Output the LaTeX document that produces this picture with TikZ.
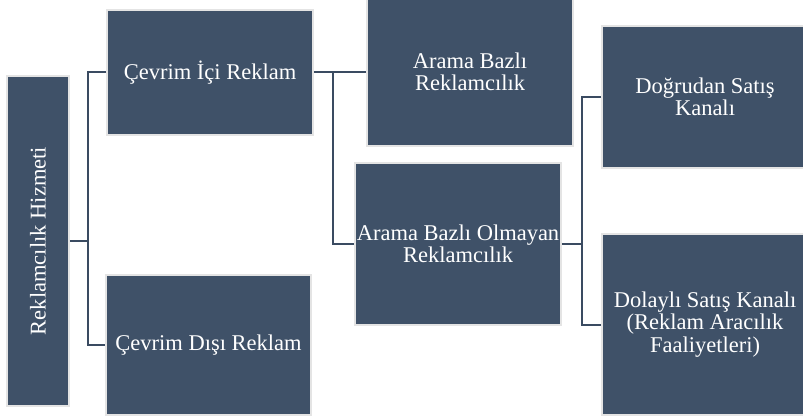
\documentclass[tikz,border=0pt]{standalone}
\usepackage{fontspec}
\setmainfont{Liberation Serif}
\definecolor{boxfill}{HTML}{3F5168}
\definecolor{boxedge}{HTML}{E4E4E4}
\definecolor{linec}{HTML}{3A4B61}
\begin{document}
\begin{tikzpicture}[x=1pt,y=-1pt,
  box/.style={rectangle, fill=boxfill, draw=boxedge, line width=1.6pt, inner sep=0pt,
    text=white, align=center, font=\fontsize{22.5}{22.3}\selectfont},
  conn/.style={draw=linec, line width=2pt}]
\clip (0,0) rectangle (803,420);
\useasboundingbox (0,0) rectangle (803,420);
\fill[white] (0,0) rectangle (803,420);

\node[box, minimum width=62pt, minimum height=330pt] (root) at (38,241) {\rotatebox{90}{Reklamcılık Hizmeti}};
\node[box, minimum width=206pt, minimum height=125pt] (c1) at (210,72.5) {Çevrim İçi Reklam};
\node[box, minimum width=205pt, minimum height=140pt] (c2) at (208.5,345) {Çevrim Dışı Reklam};
\node[box, minimum width=206pt, minimum height=148pt] (a1) at (470,72) {Arama Bazlı\\Reklamcılık};
\node[box, minimum width=206pt, minimum height=162pt] (a2) at (458,244) {Arama Bazlı Olmayan\\Reklamcılık};
\node[box, minimum width=206pt, minimum height=142pt] (d1) at (705,97) {Doğrudan Satış\\Kanalı};
\node[box, minimum width=206pt, minimum height=181pt] (d2) at (705,324.5) {Dolaylı Satış Kanalı\\(Reklam Aracılık\\Faaliyetleri)};

\coordinate (j1) at (88,0);
\coordinate (j2) at (333,0);
\coordinate (j3) at (582,0);

\draw[conn] (root.east) -- (root.east -| j1);
\draw[conn] (c1.west) -| (j1 |- c2.west) -- (c2.west);
\draw[conn] (c1.east) -- (c1.east -| a1.west);
\draw[conn] (c1.east -| j2) |- (a2.west);
\draw[conn] (a2.east) -- (a2.east -| j3);
\draw[conn] (d1.west) -| (j3 |- d2.west) -- (d2.west);
\end{tikzpicture}
\end{document}
